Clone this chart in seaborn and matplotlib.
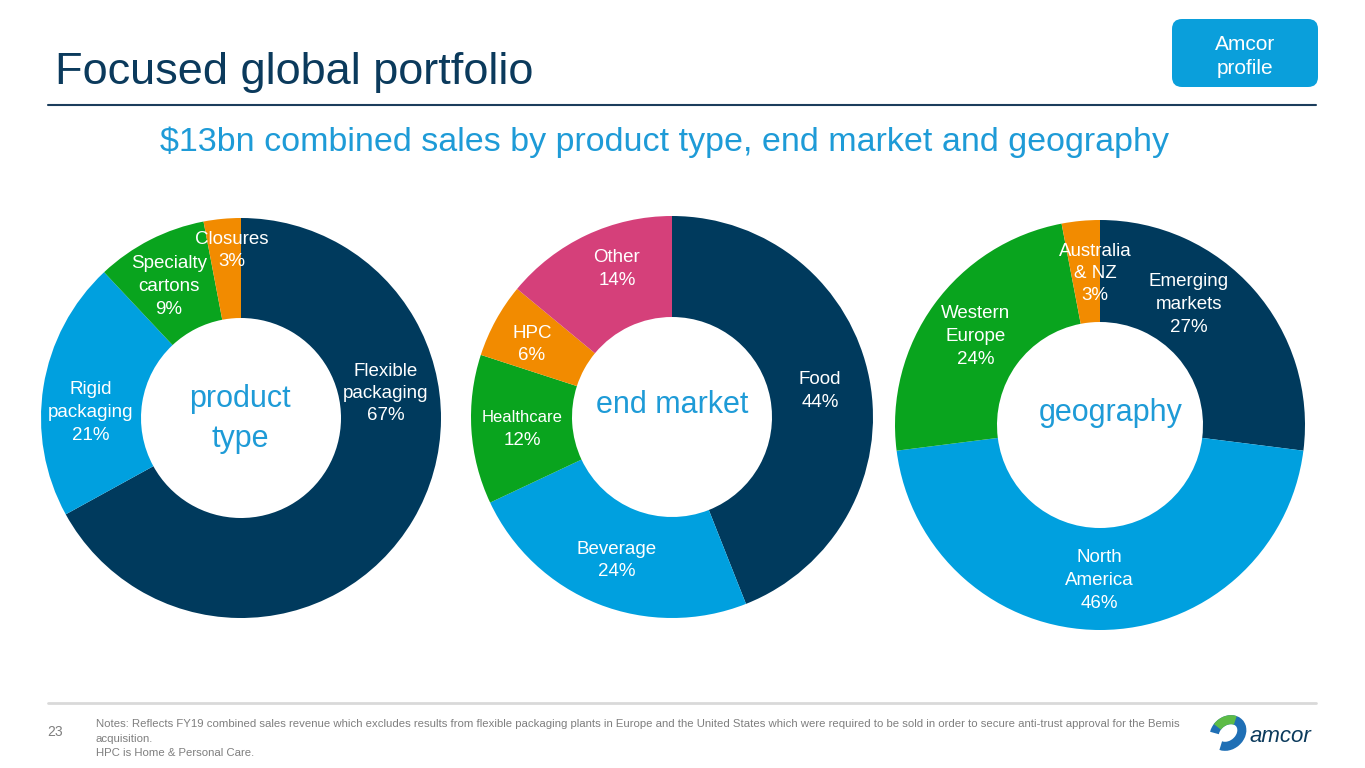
import matplotlib
matplotlib.use("Agg")
import matplotlib.pyplot as plt
import seaborn as sns
from matplotlib.patches import FancyBboxPatch, Arc

# =====================================
# DATA
# =====================================

product_labels = ["Flexible\npackaging\n67%", "Rigid\npackaging\n21%",
                  "Specialty\ncartons\n9%", "Closures\n3%"]
product_values = [67, 21, 9, 3]

market_labels = ["Food\n44%", "Beverage\n24%", "Healthcare\n12%",
                 "HPC\n6%", "Other\n14%"]
market_values = [44, 24, 12, 6, 14]

geo_labels = ["Emerging\nmarkets\n27%", "North\nAmerica\n46%",
              "Western\nEurope\n24%", "Australia\n& NZ\n3%"]
geo_values = [27, 46, 24, 3]

NAVY = "#003A5D"
BLUE = "#00A0DF"
GREEN = "#09A41E"
ORANGE = "#F28B00"
PINK = "#D5407A"
TXT_BLUE = "#1E9BD7"

product_colors = [NAVY, BLUE, GREEN, ORANGE]
market_colors = [NAVY, BLUE, GREEN, ORANGE, PINK]
geo_colors = [NAVY, BLUE, GREEN, ORANGE]

# =====================================
# FIGURE
# =====================================

sns.set_theme(style="white")
plt.rcParams["font.family"] = ["Liberation Sans", "DejaVu Sans"]

W, H = 1365, 768
fig = plt.figure(figsize=(W / 100, H / 100), dpi=100)
ax = fig.add_axes([0, 0, 1, 1])


def fy(y):
    # pixel row from the top -> data y
    return H - y


# =====================================
# DONUTS
# =====================================

donuts = [
    (product_values, product_colors, (241, 418), 200, 100),
    (market_values, market_colors, (672, 417), 201, 101),
    (geo_values, geo_colors, (1100, 425), 205, 102),
]

for values, colors, (cx, cy), r, w in donuts:
    ax.pie(
        values,
        colors=colors,
        startangle=90,
        counterclock=False,
        center=(cx, fy(cy)),
        radius=r,
        frame=True,
        wedgeprops=dict(width=w, linewidth=0),
    )

# slice labels: position of the first line of each block
label_pos = {
    "product": [(386, 371), (91, 390), (169, 264), (232, 239)],
    "market": [(820, 380), (617, 549), (522, 418), (532, 333), (617, 258)],
    "geo": [(1189, 282), (1099, 558), (976, 314), (1095, 251)],
}

for labels, key in [(product_labels, "product"), (market_labels, "market"), (geo_labels, "geo")]:
    for lab, (x, y) in zip(labels, label_pos[key]):
        for i, line in enumerate(lab.split("\n")):
            fs = 12 if line == "Healthcare" else 13.5
            ax.text(x, fy(y + 22.5 * i), line, color="white", fontsize=fs,
                    ha="center", va="center")

# centre captions
ax.text(240, fy(399), "product", color=TXT_BLUE, fontsize=22,
        ha="center", va="center")
ax.text(240, fy(439), "type", color=TXT_BLUE, fontsize=22,
        ha="center", va="center")
ax.text(672, fy(405), "end market", color=TXT_BLUE, fontsize=22,
        ha="center", va="center")
ax.text(1111, fy(413), "geography", color=TXT_BLUE, fontsize=22,
        ha="center", va="center")

# =====================================
# HEADER
# =====================================

ax.text(55, fy(84), "Focused global portfolio", color="#0B3A5C",
        fontsize=32.5, ha="left", va="baseline")
ax.plot([48, 1316], [fy(105), fy(105)], color="#1B3D5C", lw=1.5)

ax.text(664, fy(142), "$13bn combined sales by product type, end market and geography",
        color=TXT_BLUE, fontsize=24.5, ha="center", va="center")

badge = FancyBboxPatch((1172, fy(87)), 146, 68,
                       boxstyle="round,pad=0,rounding_size=10",
                       facecolor="#0A9FDB", edgecolor="none")
ax.add_patch(badge)
ax.text(1245, fy(50), "Amcor", color="white", fontsize=15, ha="center", va="baseline")
ax.text(1245, fy(74), "profile", color="white", fontsize=15, ha="center", va="baseline")

# =====================================
# FOOTER
# =====================================

ax.plot([48, 1316], [fy(703), fy(703)], color="#D9D9D9", lw=2)
ax.text(47, fy(732), "23", color="#7F7F7F", fontsize=10, ha="left", va="center")
notes = [
    "Notes: Reflects FY19 combined sales revenue which excludes results from flexible packaging "
    "plants in Europe and the United States which were required to be sold in order to secure "
    "anti-trust approval for the Bemis",
    "acquisition.",
    "HPC is Home & Personal Care.",
]
for i, line in enumerate(notes):
    ax.text(96, fy(724 + 14.5 * i), line, color="#7F7F7F", fontsize=8.2,
            ha="left", va="center")

# logo
ax.add_patch(Arc((1228, fy(733)), 30, 24, angle=40, theta1=200, theta2=500,
                 color="#1F6FB5", lw=6.5))
ax.add_patch(Arc((1228, fy(733)), 30, 24, angle=40, theta1=20, theta2=110,
                 color="#5DBB46", lw=6.5))
ax.text(1249, fy(737), "amcor", color="#0B3A5C", fontsize=16, style="italic",
        ha="left", va="center")

ax.set_xlim(0, W)
ax.set_ylim(0, H)
ax.set_aspect("auto")
ax.axis("off")

fig.savefig("out.png", dpi=100, facecolor="white")
